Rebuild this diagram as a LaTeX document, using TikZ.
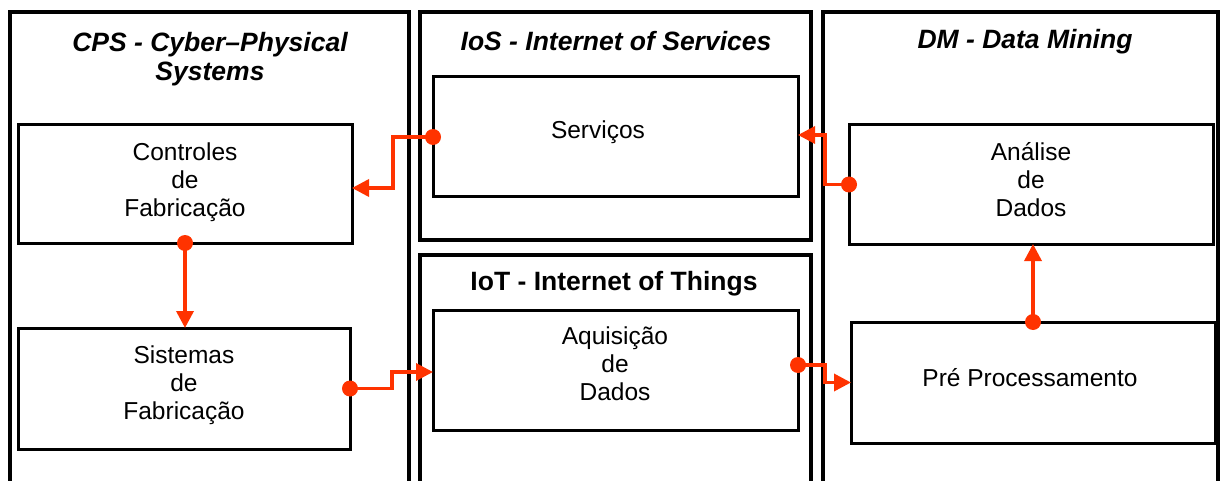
\documentclass[tikz,border=0pt]{standalone}
\usepackage{fontspec}
\setmainfont{Liberation Sans}
\usetikzlibrary{arrows.meta,calc}
\definecolor{conn}{RGB}{255,51,0}
\begin{document}
\begin{tikzpicture}[x=1pt,y=-1pt,
 panel/.style={draw=black,line width=3.5pt,rectangle,inner sep=0pt,outer sep=0pt},
 box/.style={draw=black,line width=3pt,rectangle,inner sep=0pt,outer sep=0pt},
 ttl/.style={font=\fontsize{26.5}{29}\selectfont\bfseries\itshape,align=center,inner sep=0pt},
 ttlup/.style={font=\fontsize{26.5}{29}\selectfont\bfseries,align=center,inner sep=0pt},
 txt/.style={font=\fontsize{24.5}{28}\selectfont,align=center,inner sep=0pt},
 flow/.style={draw=conn,line width=3.5pt,-{Triangle[length=17pt,width=17pt]}},
 dot/.style={fill=conn}]
\useasboundingbox (0,0) rectangle (1223,481);
\clip (0,0) rectangle (1223,481);
% panels
\node[panel,minimum width=399pt,minimum height=528pt] (cps) at (209.5,276) {};
\node[panel,minimum width=391pt,minimum height=228pt] (ios) at (615.5,126) {};
\node[panel,minimum width=391pt,minimum height=285pt] (iot) at (615.5,397.5) {};
\node[panel,minimum width=395pt,minimum height=528pt] (dm) at (1020.5,276) {};
% titles
\node[ttl] (tcps) at (210,59) {CPS - Cyber--Physical\\Systems};
\node[ttl] (tios) at (616,41) {IoS - Internet of Services};
\node[ttl] (tdm) at (1025,42) {DM - Data Mining};
\node[ttlup] (tiot) at (614,284) {IoT - Internet of Things};
% boxes
\node[box,minimum width=334pt,minimum height=118pt] (ctrl) at (185,184) {};
\node[box,minimum width=332pt,minimum height=121pt] (sist) at (184,388.5) {};
\node[box,minimum width=365pt,minimum height=120pt] (serv) at (615.5,137) {};
\node[box,minimum width=365pt,minimum height=120pt] (aquis) at (615.5,370) {};
\node[box,minimum width=364pt,minimum height=119pt] (anal) at (1031,184.5) {};
\node[box,minimum width=364pt,minimum height=121pt] (pre) at (1033,382.5) {};
% texts
\node[txt] (lctrl) at (185,182) {Controles\\de\\Fabricação};
\node[txt] (lsist) at (184,385) {Sistemas\\de\\Fabricação};
\node[txt] (lserv) at (598,132) {Serviços};
\node[txt] (laquis) at (615,364) {Aquisição\\de\\Dados};
\node[txt] (lanal) at (1031,180) {Análise\\de\\Dados};
\node[txt] (lpre) at (1030,378) {Pré Processamento};
% connectors
\draw[flow] (serv.west) -- ++(-40,0) |- ($(ctrl.east)+(0,4)$);
\fill[dot] (serv.west) circle[radius=8pt];
\draw[flow] (anal.west) -- ++(-24,0) |- ($(serv.east)+(0,-2)$);
\fill[dot] (anal.west) circle[radius=8pt];
\draw[flow] (sist.east) -- ++(42,0) |- ($(aquis.west)+(0,2)$);
\fill[dot] (sist.east) circle[radius=8pt];
\coordinate (aqout) at ($(aquis.east)+(0,-5)$);
\draw[flow] (aqout) -- ++(27,0) |- (pre.west);
\fill[dot] (aqout) circle[radius=8pt];
\draw[flow] (ctrl.south) -- (ctrl.south |- sist.north);
\fill[dot] (ctrl.south) circle[radius=8pt];
\draw[flow] (pre.north) -- (pre.north |- anal.south);
\fill[dot] (pre.north) circle[radius=8pt];
\end{tikzpicture}
\end{document}
